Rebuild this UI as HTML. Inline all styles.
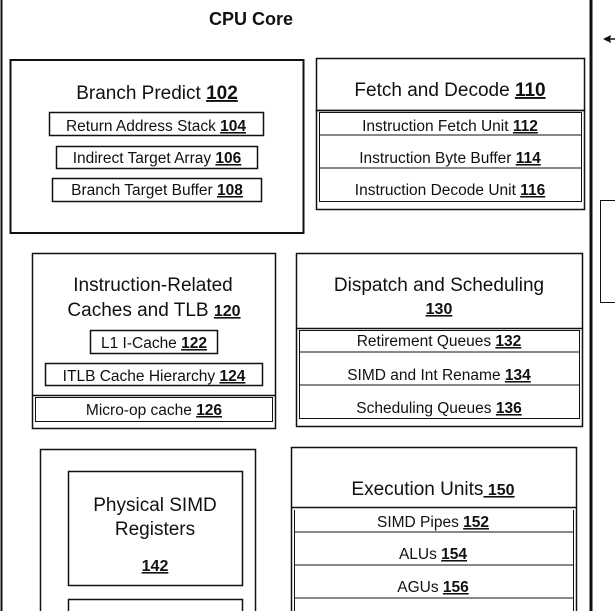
<!DOCTYPE html>
<html><head><meta charset="utf-8"><style>
html,body{margin:0;padding:0;background:#fff;}
svg{display:block;font-family:"Liberation Sans",Arial,sans-serif;}
.u{text-decoration:underline;font-weight:bold;}
</style></head><body>
<svg width="615" height="611" viewBox="0 0 615 611" xmlns="http://www.w3.org/2000/svg">
<g fill="none" stroke="#111">
<line x1="1.5" y1="0" x2="1.5" y2="611" stroke-width="2"/>
<line x1="591" y1="0" x2="591" y2="611" stroke-width="3"/>
<rect x="600.5" y="200.5" width="20" height="102" stroke-width="1"/>
<!-- Branch predict -->
<rect x="10.5" y="60" width="293" height="173" stroke-width="2"/>
<rect x="49.5" y="112.5" width="214" height="23" stroke-width="1.5"/>
<rect x="56.5" y="146.5" width="201" height="22" stroke-width="1.5"/>
<rect x="52.5" y="178.5" width="209" height="23" stroke-width="1.5"/>
<!-- Fetch -->
<rect x="316.5" y="58.5" width="268" height="52" stroke-width="1.5"/>
<rect x="316.5" y="110.5" width="268" height="99" stroke-width="1.5"/>
<rect x="319.5" y="112.5" width="262" height="89" stroke-width="1"/>
<line x1="319" y1="135" x2="582" y2="135" stroke-width="1"/>
<line x1="319" y1="168" x2="582" y2="168" stroke-width="1"/>
<!-- IRC -->
<rect x="32.5" y="253.5" width="243" height="175" stroke-width="1.5"/>
<line x1="32" y1="395.5" x2="276" y2="395.5" stroke-width="1.5"/>
<rect x="35.5" y="397.5" width="237" height="24" stroke-width="1"/>
<rect x="90.5" y="330.5" width="127" height="23" stroke-width="1.5"/>
<rect x="45.5" y="363.5" width="217" height="22" stroke-width="1.5"/>
<!-- Dispatch -->
<rect x="296.5" y="253.5" width="286" height="173" stroke-width="1.5"/>
<line x1="296" y1="328.5" x2="583" y2="328.5" stroke-width="1.5"/>
<rect x="299.5" y="330.5" width="280" height="88" stroke-width="1"/>
<line x1="299" y1="352" x2="580" y2="352" stroke-width="1"/>
<line x1="299" y1="385" x2="580" y2="385" stroke-width="1"/>
<!-- Phys SIMD -->
<rect x="40.5" y="449.5" width="215" height="170" stroke-width="1.5"/>
<rect x="68.5" y="471.5" width="174" height="114" stroke-width="1.5"/>
<rect x="68.5" y="599.5" width="174" height="30" stroke-width="1.5"/>
<!-- Exec -->
<rect x="291.5" y="447.5" width="285" height="60" stroke-width="1.5"/>
<line x1="291.5" y1="508" x2="291.5" y2="611" stroke-width="1.5"/>
<line x1="576.5" y1="508" x2="576.5" y2="611" stroke-width="1.5"/>
<line x1="294.5" y1="510" x2="294.5" y2="611" stroke-width="1"/>
<line x1="573.5" y1="510" x2="573.5" y2="611" stroke-width="1"/>
<line x1="294" y1="532" x2="574" y2="532" stroke-width="1"/>
<line x1="294" y1="565" x2="574" y2="565" stroke-width="1"/>
<line x1="294" y1="598" x2="574" y2="598" stroke-width="1"/>
</g>
<polygon points="603,39 611,35 610,39 611,43" fill="#111"/>
<line x1="608" y1="39" x2="615" y2="39" stroke="#111" stroke-width="1.5"/>
<g fill="#111" text-anchor="middle">
<text x="251" y="25" font-size="18" font-weight="bold">CPU Core</text>
<text x="157" y="99" font-size="19">Branch Predict  <tspan class="u">102</tspan></text>
<text x="156" y="131" font-size="15.5">Return Address Stack <tspan class="u">104</tspan></text>
<text x="157" y="163" font-size="15.5">Indirect Target Array <tspan class="u">106</tspan></text>
<text x="157" y="195" font-size="15.5">Branch Target Buffer <tspan class="u">108</tspan></text>
<text x="450" y="96" font-size="19">Fetch and Decode <tspan class="u">110</tspan></text>
<text x="450" y="131" font-size="15.5">Instruction Fetch Unit <tspan class="u">112</tspan></text>
<text x="450" y="163" font-size="15.5">Instruction Byte Buffer <tspan class="u">114</tspan></text>
<text x="450" y="195" font-size="15.5">Instruction Decode Unit <tspan class="u">116</tspan></text>
<text x="153" y="291" font-size="19">Instruction-Related</text>
<text x="154" y="316" font-size="19">Caches and TLB <tspan class="u" font-size="16">120</tspan></text>
<text x="154" y="348" font-size="15.5">L1 I-Cache <tspan class="u">122</tspan></text>
<text x="154" y="381" font-size="15.5">ITLB Cache Hierarchy <tspan class="u">124</tspan></text>
<text x="154" y="415" font-size="15.5">Micro-op cache <tspan class="u">126</tspan></text>
<text x="439" y="291" font-size="19">Dispatch and Scheduling</text>
<text x="439" y="314" font-size="16" class="u">130</text>
<text x="439" y="346" font-size="15.5">Retirement Queues <tspan class="u">132</tspan></text>
<text x="439" y="380" font-size="15.5">SIMD and Int Rename <tspan class="u">134</tspan></text>
<text x="439" y="413" font-size="15.5">Scheduling Queues <tspan class="u">136</tspan></text>
<text x="155" y="511" font-size="19">Physical SIMD</text>
<text x="155" y="535" font-size="19">Registers</text>
<text x="155" y="571" font-size="16" class="u">142</text>
<text x="433" y="495" font-size="19">Execution Units<tspan class="u" font-size="16"> 150</tspan></text>
<text x="433" y="527" font-size="15.5">SIMD Pipes <tspan class="u">152</tspan></text>
<text x="433" y="559" font-size="15.5">ALUs <tspan class="u">154</tspan></text>
<text x="433" y="592" font-size="15.5">AGUs <tspan class="u">156</tspan></text>
</g>
</svg>
</body></html>
